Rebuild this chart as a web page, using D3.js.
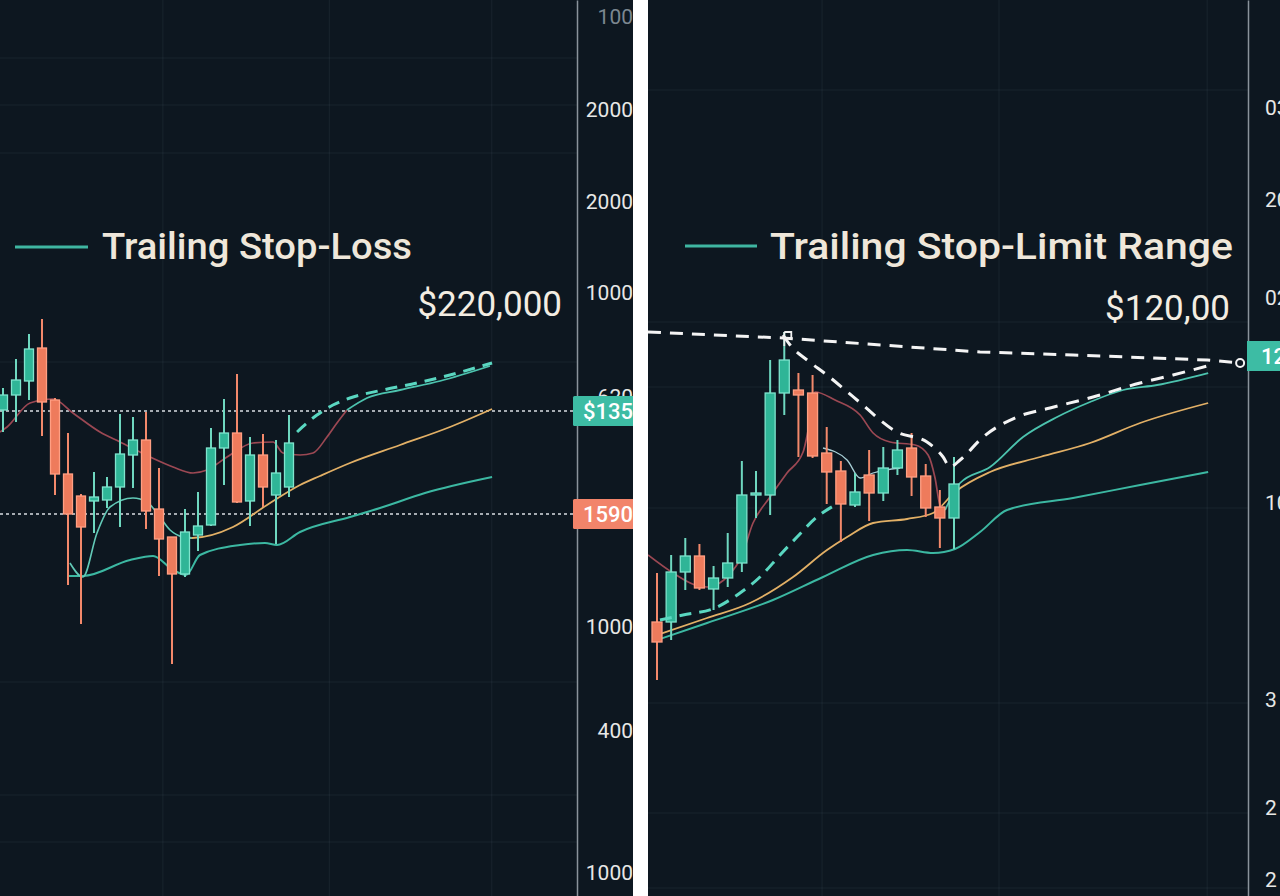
<!DOCTYPE html>
<html><head><meta charset="utf-8">
<script src="https://cdn.jsdelivr.net/npm/d3@7"></script>
<style>html,body{margin:0;padding:0;background:#fff;overflow:hidden}svg{display:block}</style>
</head><body><svg id="c" width="1280" height="896"></svg>
<script>
// ---------- DATA (price index units; x = session index) ----------
const leftOpen  = [121.5,125.25,128.75,137,124,105.5,100,98.75,99,102.25,110.25,114,96.75,89.75,80.5,90.25,92.75,112,115.75,98.75,110.25,100.25,102.25];
const leftHigh  = [127,134.25,140.5,144.25,124.5,115.75,100.5,106,104.75,120.5,119.75,121,107,89.75,96.75,101,117,124.25,130.5,114.75,115.5,114,120.25];
const leftLow   = [116,118.5,124,115,100.25,77.75,68,90.75,97,92.25,102,91.75,80,58,79.75,86.25,92.5,102.75,98.25,92.5,97.25,88,99.75];
const leftClose = [125.25,129,136.75,123.5,105.5,95.5,92.25,99.75,102.25,110.5,114,96.25,89.25,80.5,91,92.5,112,115.75,98.5,110.25,102.25,105.75,113.25];

const leftSlowMA  = [[-0.23,116],[0.31,117.25],[2.08,123.25],[3.85,124.25],[5.38,120.75],[7.46,116],[9,113.5],[11.31,109.75],[13.08,107.25],[14.62,105.75],[15.69,106.5],[17.23,109.75],[19.23,113.25],[20.77,113.5],[21.54,110.75],[22.85,110.25],[23.85,110.75],[24.92,114.75],[25.69,118.25],[26.46,121.5]];
const leftUpper   = [[26.46,121.5],[28,124.5],[30.54,126.5],[33.62,128.75],[37.46,132.5]];
const leftFast    = [[5.15,83.25],[6.15,79.75],[7.23,90.75],[8.23,97.25],[10,99.5],[11.08,98.5],[11.85,95.75],[12.85,91.5],[13.85,89.75],[14.54,89.5]];
const leftOrange  = [[13.85,89.75],[14.54,89.5],[17.69,92.25],[20.31,97.75],[22.85,102.75],[24.38,105],[26.69,108.25],[30.54,112.75],[34.38,117.25],[37.62,121.75]];
const leftStop    = [[5,80],[6.15,80],[9.77,84],[11.54,85],[13.08,81.5],[14.08,80.25],[15.15,85.25],[18.23,87.75],[20.15,88.25],[21.08,87.75],[22.85,91],[26.69,94.75],[29,97],[32.46,100.75],[37.62,104.75]];
const leftTrail   = [[22.62,116],[24.15,120.25],[25.38,122.75],[26.69,124.5],[29.23,126.5],[31.85,128.25],[34.38,130.25],[37.62,133.25]];
const leftLevels      = [121.25, 95.5];
const leftLevelLabels = ["$135", "1590"];
const leftTickValues  = [219.75,196.5,173.5,150.75,124.75,67.25,41.25,5.75];
const leftTickLabels  = ["100","2000","2000","1000","620","1000","400","1000"];
const leftGridX = [12.3,25.1,37.6];
const leftGridY = [209.5,197.75,185.75,133.5,53.5,25.25,13.5];

const rightOpen  = [68.5,68.5,81,85,76.75,79.5,83.25,100.25,100.25,125.75,126.5,125.75,110.75,106.25,97.75,105.25,100.75,107,112,105,97.25,94.5];
const rightHigh  = [80.75,85.25,89.5,88,82.5,90.75,108.75,106.25,134,141,130.75,130.25,117.25,108.75,105.75,111.5,112.25,114,115.75,108,101.5,109.75];
const rightLow   = [54,64,76.5,76.5,71.5,77.25,81,94.5,95.25,120.25,109.75,109.5,98,88.5,97.25,93.75,98.75,105.25,100,94.75,87,86.75];
const rightClose = [63.5,81,85,77,79.5,83.25,100.25,100.75,125.75,134,125.25,110,106,98,101,100.75,107,111.5,104.75,97,94.5,103];

const rightSlowMA = [[-0.64,85.25],[1.13,80.75],[2.69,77.75],[3.54,77.25],[5.87,84],[6.79,93.25],[7.99,99.75],[9.19,105.75],[10.33,111],[10.82,119],[11.17,126],[12.59,124],[14.36,120.25],[15.28,115.75],[16.48,113.5],[18.25,112.75],[19.17,110.25],[19.66,104.5],[20.01,97.75],[20.37,96.5]];
const rightUpper  = [[20.37,96.5],[21.43,103.25],[23.55,107.25],[25.88,114.75],[28.29,119.75],[30.62,123.5],[32.96,126.5],[35.36,127.75],[38.97,130.75]];
const rightPale   = [[11.74,112],[13.44,109],[14.36,104.5],[15.28,105.75],[17.19,107]];
const rightTrail  = [[0.21,69],[1.84,70.25],[4.1,72],[5.87,75.75],[7.28,79.75],[8.7,85.25],[9.9,89.75],[11.31,94.75],[12.59,97.75]];
const rightOrange = [[0,65.25],[3.54,69.5],[6.58,73.25],[9.62,79.75],[12.02,86.5],[13.44,89.75],[15.28,93.25],[17.68,94.25],[19.52,95.75],[21.07,101],[23.55,106],[27.09,109.75],[30.62,113.25],[34.16,118.25],[38.97,123.25]];
const rightStop   = [[0,64],[3.54,68.25],[8.2,74],[11.74,79.75],[15.28,85.25],[17.68,86.5],[19.52,85.75],[21.07,86.75],[22.84,91],[24.75,96.5],[29.42,99.5],[34.16,102.75],[38.97,106]];
const rightLimitTop   = [[-0.64,141],[8.91,139.5],[22.84,136],[29.42,135.25],[38.9,134],[41.23,133.25]];
const rightLimitTrail = [[8.91,140.25],[9.41,137.75],[10.61,134],[12.02,130.25],[14.14,124],[16.97,116],[19.09,113.5],[20.23,109.75],[20.72,107.25],[21.43,109],[23.06,114.75],[25.46,119.75],[27.79,122],[30.83,124.75],[34.16,128.25],[36.49,130.25],[38.9,132.5]];
const rightLevel      = 135;
const rightLevelLabel = "12";
const rightTickValues = [197,174,149.5,98.25,49,22,4];
const rightTickLabels = ["03","20","02","10","3","2","2"];
const rightGridX = [11.67,24.18,38.9];
const rightGridY = [201.5,143.5,127.25,97,48.25,20.75,2];

const titles      = ["Trailing Stop-Loss", "Trailing Stop-Limit Range"];
const priceLabels = ["$220,000", "$120,00"];

// ---------- DRAW ----------
const W = 1280, H = 896;
const svg = d3.select('#c');
svg.append('rect').attr('width', W).attr('height', H).attr('fill', '#ffffff');
const y = d3.scaleLinear().domain([0, 224]).range([H, 0]);
const BG = '#0d1720', GRID = 'rgba(190,210,225,0.07)';
const UP_F = '#2fb597', UP_S = '#7fe4cd', DN_F = '#ee7b5c', DN_S = '#ff9f83';
const FONT = 'Roboto, "Noto Sans", sans-serif';

function panel(cfg) {
  const defs = svg.append('defs');
  defs.append('clipPath').attr('id', cfg.id).append('rect')
    .attr('x', cfg.x0).attr('y', 0).attr('width', cfg.x1 - cfg.x0).attr('height', H);
  const g = svg.append('g').attr('clip-path', `url(#${cfg.id})`);
  const x = cfg.x;
  g.append('rect').attr('x', cfg.x0).attr('y', 0).attr('width', cfg.x1 - cfg.x0).attr('height', H).attr('fill', BG);

  g.selectAll('.gx').data(cfg.gridX).join('line')
    .attr('x1', d => x(d)).attr('x2', d => x(d)).attr('y1', 0).attr('y2', H)
    .attr('stroke', GRID).attr('stroke-width', 1);
  g.selectAll('.gy').data(cfg.gridY).join('line')
    .attr('x1', cfg.x0).attr('x2', cfg.axisX).attr('y1', d => y(d)).attr('y2', d => y(d))
    .attr('stroke', GRID).attr('stroke-width', 1);

  const line = (curve) => d3.line().x(d => x(d[0])).y(d => y(d[1])).curve(curve || d3.curveMonotoneX);
  const path = (data, color, w, dash, curve) => g.append('path').datum(data)
    .attr('d', line(curve)).attr('fill', 'none').attr('stroke', color)
    .attr('stroke-width', w).attr('stroke-dasharray', dash || null)
    .attr('stroke-linejoin', 'round');

  if (cfg.levels) {
    g.selectAll('.lv').data(cfg.levels).join('line')
      .attr('x1', cfg.x0).attr('x2', cfg.axisX).attr('y1', d => y(d)).attr('y2', d => y(d))
      .attr('stroke', '#d9dee2').attr('stroke-width', 1.3).attr('stroke-dasharray', '3 3');
  }

  path(cfg.stop, '#3cb8a2', 2);
  path(cfg.orange, '#e2b066', 1.8);
  if (cfg.fast) path(cfg.fast, '#62c9b7', 1.6);
  if (cfg.pale) path(cfg.pale, '#a8cfd6', 1.3);
  path(cfg.slow, '#9b4853', 1.7);
  path(cfg.upper, '#4cc3ae', 1.8);

  const n = cfg.open.length;
  const idx = d3.range(n);
  const up = i => cfg.close[i] >= cfg.open[i];
  g.selectAll('.wick' + cfg.id).data(idx).join('line')
    .attr('x1', i => x(i)).attr('x2', i => x(i))
    .attr('y1', i => y(cfg.high[i])).attr('y2', i => y(cfg.low[i]))
    .attr('stroke', i => up(i) ? '#6fd8c0' : '#f3896b').attr('stroke-width', 2);
  g.selectAll('.body' + cfg.id).data(idx).join('rect')
    .attr('x', i => x(i) - cfg.bodyW / 2).attr('width', cfg.bodyW)
    .attr('y', i => y(Math.max(cfg.open[i], cfg.close[i])))
    .attr('height', i => Math.max(2, Math.abs(y(cfg.open[i]) - y(cfg.close[i]))))
    .attr('fill', i => up(i) ? UP_F : DN_F)
    .attr('stroke', i => up(i) ? UP_S : DN_S).attr('stroke-width', 1.3);

  path(cfg.trail, '#5ad7c1', 3, '12 8');
  if (cfg.limitTop) path(cfg.limitTop, '#f4f4f4', 3, '13 9', d3.curveLinear);
  if (cfg.limitTrail) path(cfg.limitTrail, '#f4f4f4', 3, '13 9', d3.curveMonotoneX);

  const ax = d3.axisRight(y).tickValues(cfg.tickValues)
    .tickFormat((d, i) => cfg.tickLabels[i]).tickSize(0).tickSizeOuter(0).tickPadding(cfg.tickPad);
  const ag = g.append('g').attr('transform', `translate(${cfg.axisX},0)`).call(ax);
  ag.select('.domain').attr('stroke', '#8a939b').attr('stroke-width', 1.5);
  ag.selectAll('text').attr('font-family', FONT).attr('font-size', 21)
    .attr('fill', (d, i) => (cfg.dimFirst && i === 0) ? '#7c8790' : '#e8e8e6')
    .attr('text-anchor', cfg.tickAnchor);

  return { g, x };
}

// LEFT PANEL
const L = panel({
  id: 'clipL', x0: 0, x1: 633, axisX: 577, bodyW: 9, tickPad: 56, tickAnchor: 'end', dimFirst: true,
  x: d3.scaleLinear().domain([0, 44]).range([3, 575]),
  open: leftOpen, high: leftHigh, low: leftLow, close: leftClose,
  slow: leftSlowMA, upper: leftUpper, fast: leftFast, orange: leftOrange, stop: leftStop, trail: leftTrail,
  levels: leftLevels, tickValues: leftTickValues, tickLabels: leftTickLabels,
  gridX: leftGridX, gridY: leftGridY
});
const boxColors = ['#3dbca4', '#f2846a'];
leftLevels.forEach((v, i) => {
  L.g.append('rect').attr('x', 573).attr('y', y(v) - 15).attr('width', 64).attr('height', 30)
    .attr('fill', boxColors[i]).attr('rx', 1.5);
  L.g.append('text').attr('x', 583).attr('y', y(v)).attr('dy', '0.36em')
    .attr('font-family', FONT).attr('font-size', 22).attr('font-weight', 500)
    .attr('fill', '#ffffff').text(leftLevelLabels[i]);
});
L.g.append('line').attr('x1', 15).attr('x2', 88).attr('y1', 247).attr('y2', 247)
  .attr('stroke', '#3fb6a1').attr('stroke-width', 3);
L.g.append('text').attr('x', 102).attr('y', 259).attr('font-family', FONT).attr('font-size', 37)
  .attr('font-weight', 500).attr('fill', '#efe7da').attr('textLength', 310)
  .attr('lengthAdjust', 'spacingAndGlyphs').text(titles[0]);
L.g.append('text').attr('x', 562).attr('y', 316).attr('text-anchor', 'end').attr('font-family', FONT)
  .attr('font-size', 35).attr('fill', '#f3ede2').text(priceLabels[0]);

// RIGHT PANEL
const R = panel({
  id: 'clipR', x0: 648, x1: 1280, axisX: 1248, bodyW: 10, tickPad: 17, tickAnchor: 'start', dimFirst: false,
  x: d3.scaleLinear().domain([0, 42]).range([657, 1251]),
  open: rightOpen, high: rightHigh, low: rightLow, close: rightClose,
  slow: rightSlowMA, upper: rightUpper, pale: rightPale, orange: rightOrange, stop: rightStop, trail: rightTrail,
  limitTop: rightLimitTop, limitTrail: rightLimitTrail,
  tickValues: rightTickValues, tickLabels: rightTickLabels,
  gridX: rightGridX, gridY: rightGridY
});
const endPt = rightLimitTop[rightLimitTop.length - 1];
R.g.append('circle').attr('cx', R.x(endPt[0])).attr('cy', y(endPt[1])).attr('r', 4)
  .attr('fill', 'none').attr('stroke', '#f4f4f4').attr('stroke-width', 2);
const pk = d3.maxIndex(rightHigh);
const fx = R.x(pk), fy = y(rightHigh[pk]);
R.g.append('path').attr('d', `M${fx},${fy} v14 M${fx},${fy} h7 v6 h-7`)
  .attr('fill', 'none').attr('stroke', '#f0f0f0').attr('stroke-width', 1.8);
R.g.append('rect').attr('x', 1247).attr('y', y(rightLevel) - 15).attr('width', 40).attr('height', 30)
  .attr('fill', '#3dbca4');
R.g.append('text').attr('x', 1261).attr('y', y(rightLevel)).attr('dy', '0.36em')
  .attr('font-family', FONT).attr('font-size', 22).attr('font-weight', 500)
  .attr('fill', '#ffffff').text(rightLevelLabel);
R.g.append('line').attr('x1', 685).attr('x2', 757).attr('y1', 246).attr('y2', 246)
  .attr('stroke', '#3fb6a1').attr('stroke-width', 3);
R.g.append('text').attr('x', 770).attr('y', 259).attr('font-family', FONT).attr('font-size', 37)
  .attr('font-weight', 500).attr('fill', '#efe7da').attr('textLength', 463)
  .attr('lengthAdjust', 'spacingAndGlyphs').text(titles[1]);
R.g.append('text').attr('x', 1230).attr('y', 320).attr('text-anchor', 'end').attr('font-family', FONT)
  .attr('font-size', 35).attr('fill', '#f3ede2').text(priceLabels[1]);
</script></body></html>
